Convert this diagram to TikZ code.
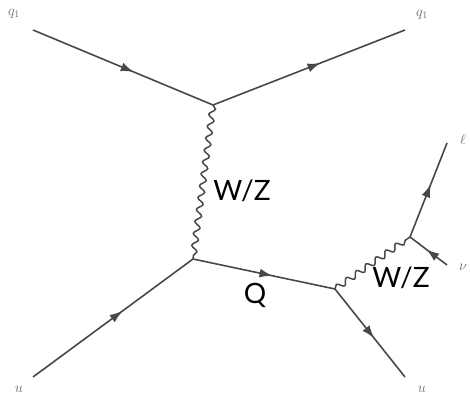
\documentclass[tikz,border=0pt]{standalone}
\usepackage{fontspec}
\newfontfamily\labelfont{Lato}
\usetikzlibrary{decorations.markings,decorations.pathmorphing,arrows.meta}
\definecolor{linegray}{HTML}{484848}
\definecolor{labgray}{HTML}{6A6A6A}
\begin{document}
\begin{tikzpicture}[x=1pt,y=-1pt,
  fermion/.style={color=linegray,line width=1.6pt,postaction={decorate},
    decoration={markings,mark=at position 0.56 with {\arrow{Latex[length=13pt,width=9pt]}}}},
  boson/.style={color=linegray,line width=1.5pt,decorate,
    decoration={snake,amplitude=3pt,segment length=12pt}},
  mlabel/.style={text=labgray,font=\fontsize{14}{16}\selectfont,inner sep=0pt},
  blabel/.style={text=black,font=\labelfont\fontsize{28}{30}\selectfont,inner sep=0pt}]
\useasboundingbox (0,0) rectangle (470,398);
% vertices and free ends
\coordinate (v1) at (213,105);
\coordinate (v2) at (193,259);
\coordinate (v3) at (335,289);
\coordinate (v4) at (410,237);
\coordinate (tl) at (33,30);
\coordinate (tr) at (405,30);
\coordinate (bl) at (33,377);
\coordinate (br) at (405,377);
\coordinate (el) at (447,143);
\coordinate (nu) at (447,265);
% fermion lines
\draw[fermion] (tl) -- (v1);
\draw[fermion] (v1) -- (tr);
\draw[fermion] (bl) -- (v2);
\draw[fermion] (v2) -- (v3);
\draw[fermion] (v3) -- (br);
\draw[fermion] (v4) -- (el);
\draw[fermion] (nu) -- (v4);
% bosons
\draw[boson] (v1) -- (v2);
\draw[boson] (v3) -- (v4);
% labels
\node[mlabel] (ltl) at (14,14) {$q_1$};
\node[mlabel] (ltr) at (422,15) {$q_1$};
\node[mlabel] (lbl) at (19,389) {$u$};
\node[mlabel] (lbr) at (422,389) {$u$};
\node[mlabel] (lel) at (463,139) {$\ell$};
\node[mlabel] (lnu) at (463,267) {$\nu$};
\node[blabel] (wz1) at (242,191) {W/Z};
\node[blabel] (q) at (255,295) {Q};
\node[blabel] (wz2) at (401,278) {W/Z};
\end{tikzpicture}
\end{document}
